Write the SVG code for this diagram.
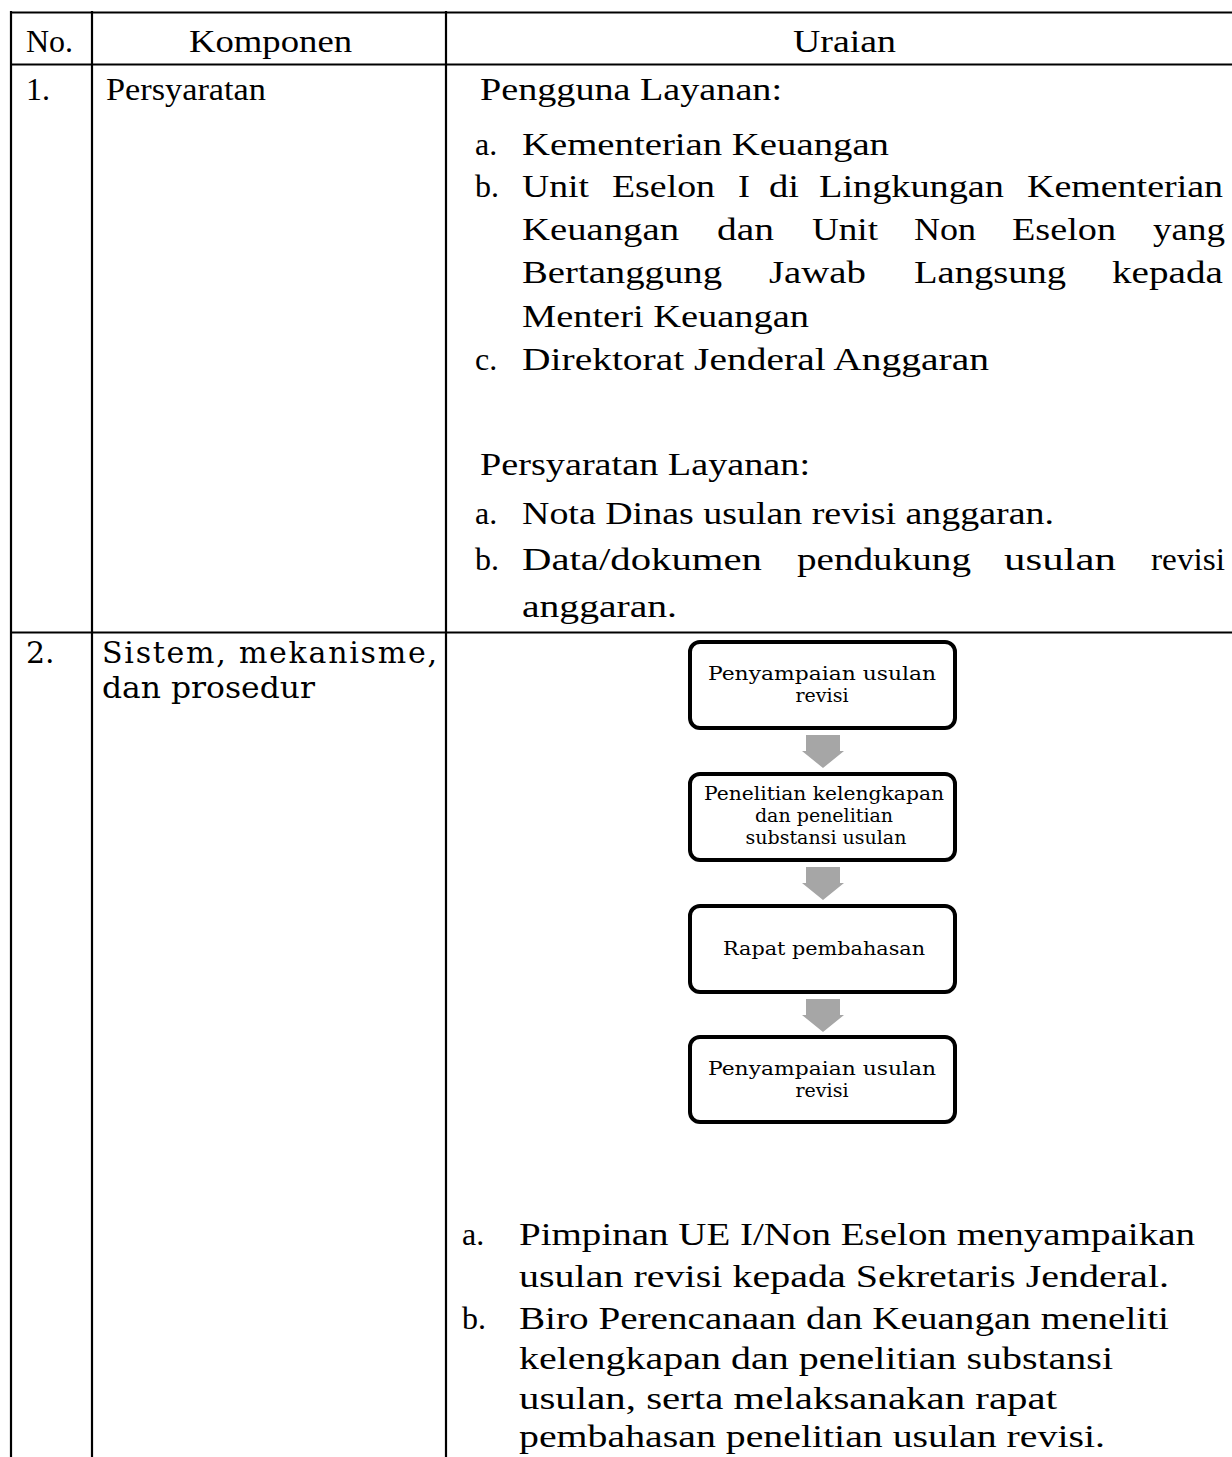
<svg xmlns="http://www.w3.org/2000/svg" width="1232" height="1457" viewBox="0 0 1232 1457">
  <style>
    .cond { font-family: "Liberation Serif", "Times New Roman", serif; font-size: 32px; fill: #000; }
    .wide { font-family: "DejaVu Serif", "Liberation Serif", serif; font-size: 30px; fill: #000; }
    .box-text { font-family: "DejaVu Serif", "Liberation Serif", serif; font-size: 19px; fill: #000; text-anchor: middle; }
    .grid { stroke: #000; stroke-width: 2.2; fill: none; }
    .step { fill: #fff; stroke: #000; stroke-width: 4; }
    .flow-arrow { fill: #a6a6a6; stroke: none; }
  </style>
  <defs>
    <!-- block arrow used between the flow steps -->
    <path id="down-arrow" d="M -17 0 H 17 V 16 H 21 L 0 33 L -21 16 H -17 Z"/>
  </defs>
  <rect width="1232" height="1457" fill="#fff"/>

  <!-- table rules -->
  <g id="table-grid" class="grid">
    <line x1="10" y1="12.5" x2="1232" y2="12.5"/>
    <line x1="10" y1="64.5" x2="1232" y2="64.5"/>
    <line x1="10" y1="632.5" x2="1232" y2="632.5"/>
    <line x1="11" y1="11" x2="11" y2="1457"/>
    <line x1="92" y1="11" x2="92" y2="1457"/>
    <line x1="446" y1="11" x2="446" y2="1457"/>
  </g>

  <!-- header row -->
  <g id="header">
    <text class="cond" x="26" y="52">No.</text>
    <text class="cond" x="189" y="52" textLength="163" lengthAdjust="spacingAndGlyphs">Komponen</text>
    <text class="cond" x="793" y="52" textLength="103" lengthAdjust="spacingAndGlyphs">Uraian</text>
  </g>

  <!-- row 1: Persyaratan -->
  <g id="row-1">
    <text class="cond" x="26" y="100">1.</text>
    <text class="cond" x="106" y="100" textLength="160" lengthAdjust="spacingAndGlyphs">Persyaratan</text>
    <text class="cond" x="480" y="100" textLength="302" lengthAdjust="spacingAndGlyphs">Pengguna Layanan:</text>

    <text class="cond" x="475" y="155">a.</text>
    <text class="cond" x="522" y="155" textLength="367" lengthAdjust="spacingAndGlyphs">Kementerian Keuangan</text>

    <!-- justified item b -->
    <text class="cond" x="475" y="197">b.</text>
    <text class="cond" x="522" y="197" textLength="67" lengthAdjust="spacingAndGlyphs">Unit</text>
    <text class="cond" x="612" y="197" textLength="103" lengthAdjust="spacingAndGlyphs">Eselon</text>
    <text class="cond" x="738" y="197" textLength="12" lengthAdjust="spacingAndGlyphs">I</text>
    <text class="cond" x="769" y="197" textLength="30" lengthAdjust="spacingAndGlyphs">di</text>
    <text class="cond" x="819" y="197" textLength="185" lengthAdjust="spacingAndGlyphs">Lingkungan</text>
    <text class="cond" x="1027" y="197" textLength="196" lengthAdjust="spacingAndGlyphs">Kementerian</text>

    <text class="cond" x="522" y="240" textLength="157" lengthAdjust="spacingAndGlyphs">Keuangan</text>
    <text class="cond" x="717" y="240" textLength="57" lengthAdjust="spacingAndGlyphs">dan</text>
    <text class="cond" x="812" y="240" textLength="66" lengthAdjust="spacingAndGlyphs">Unit</text>
    <text class="cond" x="914" y="240" textLength="62" lengthAdjust="spacingAndGlyphs">Non</text>
    <text class="cond" x="1012" y="240" textLength="104" lengthAdjust="spacingAndGlyphs">Eselon</text>
    <text class="cond" x="1153" y="240" textLength="72" lengthAdjust="spacingAndGlyphs">yang</text>

    <text class="cond" x="522" y="283" textLength="200" lengthAdjust="spacingAndGlyphs">Bertanggung</text>
    <text class="cond" x="769" y="283" textLength="97" lengthAdjust="spacingAndGlyphs">Jawab</text>
    <text class="cond" x="914" y="283" textLength="152" lengthAdjust="spacingAndGlyphs">Langsung</text>
    <text class="cond" x="1112" y="283" textLength="111" lengthAdjust="spacingAndGlyphs">kepada</text>

    <text class="cond" x="522" y="327" textLength="287" lengthAdjust="spacingAndGlyphs">Menteri Keuangan</text>

    <text class="cond" x="475" y="370">c.</text>
    <text class="cond" x="522" y="370" textLength="467" lengthAdjust="spacingAndGlyphs">Direktorat Jenderal Anggaran</text>

    <text class="cond" x="480" y="475" textLength="330" lengthAdjust="spacingAndGlyphs">Persyaratan Layanan:</text>

    <text class="cond" x="475" y="524">a.</text>
    <text class="cond" x="522" y="524" textLength="532" lengthAdjust="spacingAndGlyphs">Nota Dinas usulan revisi anggaran.</text>

    <!-- justified item b -->
    <text class="cond" x="475" y="570">b.</text>
    <text class="cond" x="522" y="570" textLength="240" lengthAdjust="spacingAndGlyphs">Data/dokumen</text>
    <text class="cond" x="797" y="570" textLength="174" lengthAdjust="spacingAndGlyphs">pendukung</text>
    <text class="cond" x="1004" y="570" textLength="112" lengthAdjust="spacingAndGlyphs">usulan</text>
    <text class="cond" x="1151" y="570" textLength="74" lengthAdjust="spacingAndGlyphs">revisi</text>
    <text class="cond" x="522" y="617" textLength="155" lengthAdjust="spacingAndGlyphs">anggaran.</text>
  </g>

  <!-- row 2: Sistem, mekanisme, dan prosedur -->
  <g id="row-2">
    <text class="wide" x="26" y="663">2.</text>
    <text class="wide" x="102" y="663" textLength="335" lengthAdjust="spacing">Sistem,  mekanisme,</text>
    <text class="wide" x="102" y="698" textLength="213" lengthAdjust="spacingAndGlyphs">dan prosedur</text>
  </g>

  <!-- flow steps -->
  <g id="step-1">
    <rect class="step" x="690" y="642" width="265" height="86" rx="10"/>
    <text class="box-text" x="822" y="680" textLength="228" lengthAdjust="spacingAndGlyphs">Penyampaian usulan</text>
    <text class="box-text" x="822" y="702">revisi</text>
  </g>
  <g id="step-2">
    <rect class="step" x="690" y="774" width="265" height="86" rx="10"/>
    <text class="box-text" x="824" y="800" textLength="240" lengthAdjust="spacingAndGlyphs">Penelitian kelengkapan</text>
    <text class="box-text" x="824" y="822">dan penelitian</text>
    <text class="box-text" x="826" y="844">substansi usulan</text>
  </g>
  <g id="step-3">
    <rect class="step" x="690" y="906" width="265" height="86" rx="10"/>
    <text class="box-text" x="824" y="955" textLength="202" lengthAdjust="spacingAndGlyphs">Rapat pembahasan</text>
  </g>
  <g id="step-4">
    <rect class="step" x="690" y="1037" width="265" height="85" rx="10"/>
    <text class="box-text" x="822" y="1075" textLength="228" lengthAdjust="spacingAndGlyphs">Penyampaian usulan</text>
    <text class="box-text" x="822" y="1097">revisi</text>
  </g>

  <!-- connectors between steps -->
  <g id="connectors" class="flow-arrow">
    <use href="#down-arrow" x="823" y="735"/>
    <use href="#down-arrow" x="823" y="867"/>
    <use href="#down-arrow" x="823" y="999"/>
  </g>

  <!-- procedure description -->
  <g id="row-2-text">
    <text class="cond" x="462" y="1245">a.</text>
    <text class="cond" x="519" y="1245" textLength="676" lengthAdjust="spacingAndGlyphs">Pimpinan UE I/Non Eselon menyampaikan</text>
    <text class="cond" x="519" y="1287" textLength="650" lengthAdjust="spacingAndGlyphs">usulan revisi kepada Sekretaris Jenderal.</text>
    <text class="cond" x="462" y="1329">b.</text>
    <text class="cond" x="519" y="1329" textLength="650" lengthAdjust="spacingAndGlyphs">Biro Perencanaan dan Keuangan meneliti</text>
    <text class="cond" x="519" y="1369" textLength="594" lengthAdjust="spacingAndGlyphs">kelengkapan dan penelitian substansi</text>
    <text class="cond" x="519" y="1409" textLength="538" lengthAdjust="spacingAndGlyphs">usulan, serta melaksanakan rapat</text>
    <text class="cond" x="519" y="1447" textLength="586" lengthAdjust="spacingAndGlyphs">pembahasan penelitian usulan revisi.</text>
  </g>
</svg>
